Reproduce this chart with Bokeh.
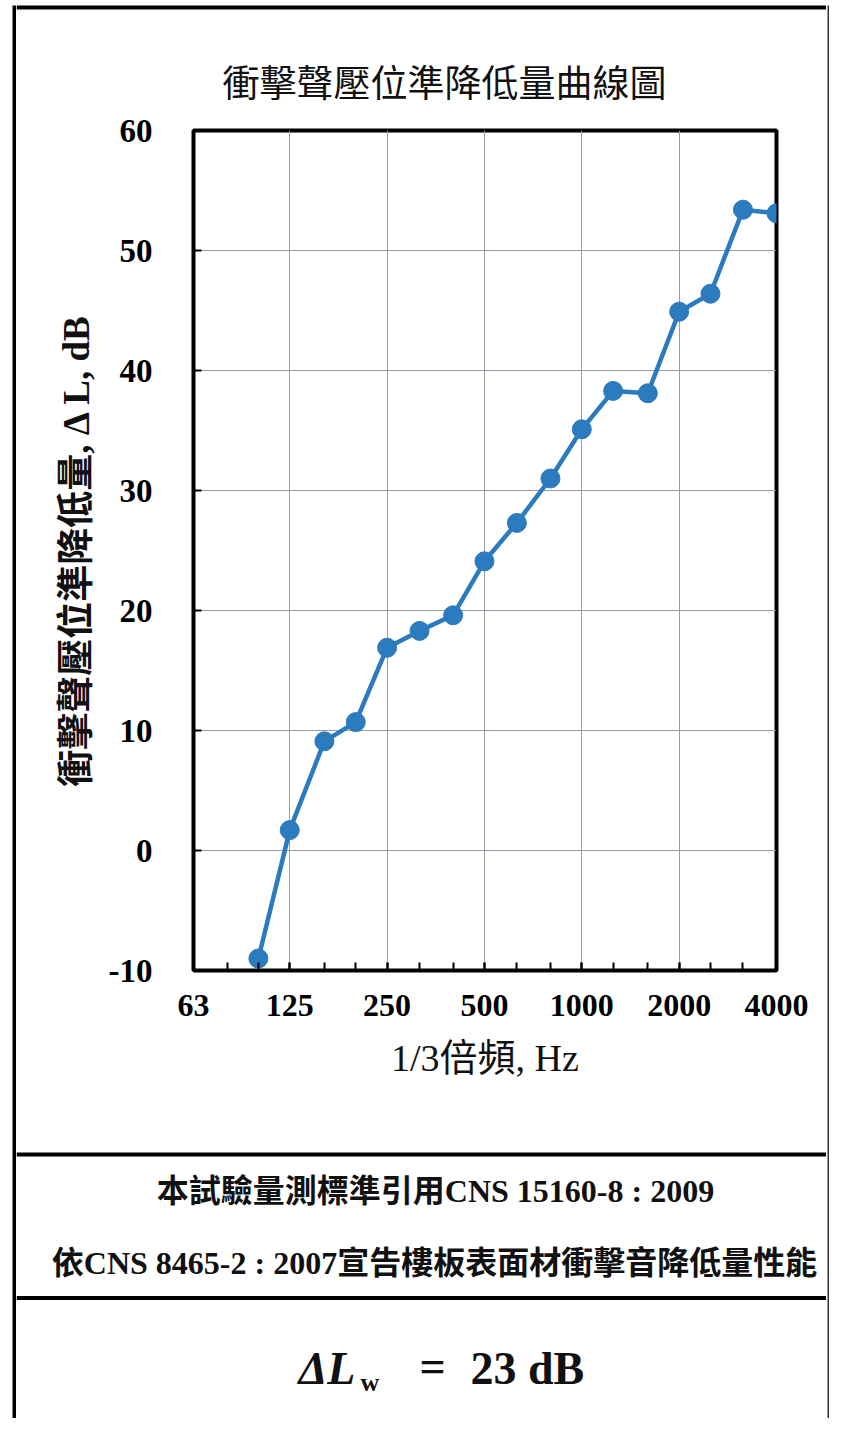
from bokeh.plotting import figure
from bokeh.layouts import row, column
from bokeh.models import FixedTicker, Label, Span, Range1d
from bokeh.embed import file_html
from bokeh.resources import INLINE

# ---- data ----
freqs = [100, 125, 160, 200, 250, 315, 400, 500, 630, 800, 1000, 1250, 1600, 2000, 2500, 3150, 4000]
delta_L = [-9.0, 1.7, 9.1, 10.7, 16.9, 18.3, 19.6, 24.1, 27.3, 31.0, 35.1, 38.3, 38.1, 44.9, 46.4, 53.4, 53.1]
third_octave_bands = [63, 80, 100, 125, 160, 200, 250, 315, 400, 500, 630, 800, 1000, 1250, 1600, 2000, 2500, 3150, 4000]
octave_ticks = [63, 125, 250, 500, 1000, 2000, 4000]
octave_grid = [125, 250, 500, 1000, 2000]
y_ticks = [-10, 0, 10, 20, 30, 40, 50, 60]
y_grid = [0, 10, 20, 30, 40, 50]

title_text = "衝擊聲壓位準降低量曲線圖"
x_label = "1/3倍頻, Hz"
y_label = "衝擊聲壓位準降低量, Δ L, dB"
note_line1 = "本試驗量測標準引用CNS 15160-8 : 2009"
note_line2 = "依CNS 8465-2 : 2007宣告樓板表面材衝擊音降低量性能"
result_parts = ["ΔL", "w", "=", "23 dB"]

SERIF = "Liberation Serif, Noto Sans CJK TC"
CJK = "Noto Sans CJK TC"
BLUE = "#2B7BBE"
INK = "#111111"

TOTAL_W, TOTAL_H = 829, 1418
LEFT_W, RIGHT_W = 16, 3
MID_W = TOTAL_W - LEFT_W - RIGHT_W
TOP_H = 12
CHART_H = 1134
BOX_H = TOTAL_H - TOP_H - CHART_H


def no_align(fig):
    if "frame_align" in fig.properties():
        fig.frame_align = False
    return fig


def strip(w, h, l, t):
    s = figure(width=w, height=h, x_range=Range1d(0, 1), y_range=Range1d(0, 1),
               output_backend="svg", toolbar_location=None, title=None,
               x_axis_location=None, y_axis_location=None,
               min_border_left=l, min_border_right=0, min_border_top=t, min_border_bottom=0)
    s.grid.visible = False
    s.outline_line_color = None
    s.background_fill_color = "black"
    s.border_fill_color = "white"
    return no_align(s)


left_strip = strip(LEFT_W, TOTAL_H, 12, 5)
right_strip = strip(RIGHT_W, TOTAL_H, 1, 5)
right_strip.background_fill_color = "#333333"

# top border line: a span inside a full-frame strip
top_strip = figure(width=MID_W, height=TOP_H, x_range=Range1d(0, 1), y_range=Range1d(TOP_H, 0),
                   output_backend="svg", toolbar_location=None, title=None,
                   x_axis_location=None, y_axis_location=None, min_border=0)
no_align(top_strip)
top_strip.grid.visible = False
top_strip.outline_line_color = None
top_strip.background_fill_color = "white"
top_strip.border_fill_color = "white"
top_strip.add_layout(Span(location=7, dimension="width", line_color="black", line_width=4))

# ---------------- chart ----------------
p = figure(width=MID_W, height=CHART_H, x_axis_type="log",
           x_range=Range1d(63, 4000), y_range=Range1d(-10, 60),
           output_backend="svg", toolbar_location=None,
           min_border_left=177, min_border_right=50,
           min_border_top=118, min_border_bottom=176)
no_align(p)
p.background_fill_color = "white"
p.border_fill_color = "white"
p.outline_line_color = "black"
p.outline_line_width = 4

p.title.text = title_text
p.title.text_font = CJK
p.title.text_font_size = "37px"
p.title.text_font_style = "normal"
p.title.text_color = INK
p.title.align = "left"
p.title.offset = 29
p.title.standoff = 46

p.line(freqs, delta_L, line_color=BLUE, line_width=4.5)
p.scatter(freqs, delta_L, size=19, fill_color=BLUE, line_color=BLUE)

xa = p.xaxis[0]
xa.ticker = FixedTicker(ticks=octave_ticks, minor_ticks=third_octave_bands)
xa.major_label_overrides = {t: str(t) for t in octave_ticks}
xa.axis_line_color = None
xa.major_tick_in = 8
xa.major_tick_out = 0
xa.minor_tick_in = 8
xa.minor_tick_out = 0
xa.major_tick_line_width = 2
xa.minor_tick_line_width = 2
xa.major_tick_line_color = "black"
xa.minor_tick_line_color = "black"
xa.major_label_text_font = "Liberation Serif"
xa.major_label_text_font_style = "bold"
xa.major_label_text_font_size = "32px"
xa.major_label_text_color = "black"
xa.major_label_standoff = 24
xa.axis_label = x_label
xa.axis_label_text_font = SERIF
xa.axis_label_text_font_style = "normal"
xa.axis_label_text_font_size = "38px"
xa.axis_label_text_color = INK
xa.axis_label_standoff = 18

ya = p.yaxis[0]
ya.ticker = FixedTicker(ticks=y_ticks)
ya.major_label_overrides = {t: str(t) for t in y_ticks}
ya.axis_line_color = None
ya.major_tick_in = 8
ya.major_tick_out = 0
ya.minor_tick_line_color = None
ya.major_tick_line_width = 2
ya.major_tick_line_color = "black"
ya.major_label_text_font = "Liberation Serif"
ya.major_label_text_font_style = "bold"
ya.major_label_text_font_size = "33px"
ya.major_label_text_color = "black"
ya.major_label_standoff = 41
ya.axis_label = y_label
ya.axis_label_text_font = SERIF
ya.axis_label_text_font_style = "bold"
ya.axis_label_text_font_size = "37px"
ya.axis_label_text_color = INK
ya.axis_label_standoff = 9

p.xgrid.ticker = FixedTicker(ticks=octave_grid)
p.ygrid.ticker = FixedTicker(ticks=y_grid)
for g in (p.xgrid, p.ygrid):
    g.grid_line_color = "#9a9aac"
    g.grid_line_width = 1

# ---------------- notes box ----------------
b = figure(width=MID_W, height=BOX_H, x_range=Range1d(0, MID_W), y_range=Range1d(BOX_H, 0),
           output_backend="svg", toolbar_location=None, title=None,
           x_axis_location=None, y_axis_location=None, min_border=0)
no_align(b)
b.grid.visible = False
b.outline_line_color = None
b.background_fill_color = "white"
b.border_fill_color = "white"
b.add_layout(Span(location=8, dimension="width", line_color="black", line_width=4))
b.add_layout(Span(location=151.5, dimension="width", line_color="black", line_width=4))


def lab(text, x, y, size, style="bold", align="center", font=SERIF):
    b.add_layout(Label(x=x, y=y, text=text, text_font=font, text_font_size=size,
                       text_font_style=style, text_align=align, text_baseline="middle",
                       text_color=INK))


lab(note_line1, 419, 44, "32px")
lab(note_line2, 418, 116, "32px")
lab(result_parts[0], 282, 222, "46px", style="bold italic", align="left")
lab(result_parts[1], 344, 236, "26px", align="left")
lab(result_parts[2], 416, 220, "46px")
lab(result_parts[3], 454, 222, "46px", align="left")

layout = row(left_strip, column(row(top_strip), row(p), row(b)), right_strip)

open("out.html", "w").write(file_html(layout, INLINE))
